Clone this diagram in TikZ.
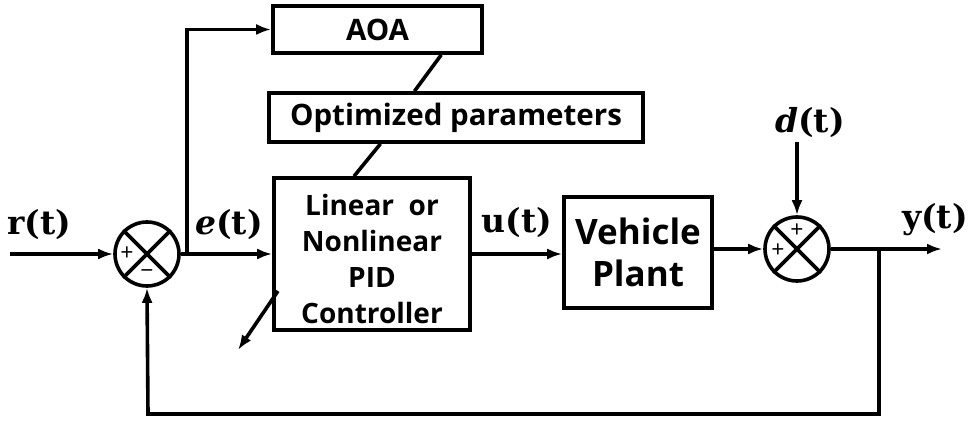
\documentclass[tikz,border=0pt]{standalone}
\usepackage{fontspec}
\newfontfamily\boxfont{Open Sans}
\newfontfamily\sigfont{DejaVu Serif}
\usetikzlibrary{arrows.meta,calc}
\begin{document}
\begin{tikzpicture}[x=1pt,y=-1pt,
  line width=3.6pt,
  arr/.style={-{Latex[length=15pt,width=11pt]}},
  blk/.style={draw,rectangle,inner sep=0pt,font=\boxfont\bfseries\fontsize{29.5}{36}\selectfont,align=center},
  sumc/.style={draw,circle,minimum size=64pt,inner sep=0pt},
  sig/.style={font=\sigfont\bfseries\fontsize{33}{36}\selectfont},
  pm/.style={font=\boxfont\fontsize{23}{23}\selectfont,inner sep=0pt}]
\useasboundingbox (0,0) rectangle (975,422);
% blocks
\node[blk,minimum width=209pt,minimum height=47pt] (aoa) at (377.5,29.5) {AOA};
\node[blk,minimum width=374pt,minimum height=49pt] (opt) at (456,117.5) {Optimized parameters};
\node[blk,minimum width=196pt,minimum height=152pt] (ctrl) at (372,254) {};
\node[font=\boxfont\bfseries\fontsize{28}{36}\selectfont,align=center] (ctxt) at (372,259) {Linear\ \ or\\Nonlinear\\PID\\Controller};
\node[blk,minimum width=148pt,minimum height=111pt,font=\boxfont\bfseries\fontsize{35}{42}\selectfont] (plant) at (638,252.5) {Vehicle\\Plant};
% summing junctions
\node[sumc] (s1) at (147,254) {};
\draw (s1.north west) -- (s1.south east) (s1.north east) -- (s1.south west);
\node[pm] (s1p) at (127,254) {+};
\node[pm] (s1m) at (147,274) {\textminus};
\node[sumc] (s2) at (797,249) {};
\draw (s2.north west) -- (s2.south east) (s2.north east) -- (s2.south west);
\node[pm] (s2t) at (797,231) {+};
\node[pm] (s2l) at (778,251) {+};
% labels
\node[sig] (rl) at (39,225) {r(t)};
\node[sig] (el) at (229,225) {\textit{e}(t)};
\node[sig] (ul) at (517,223) {u(t)};
\node[sig] (dl) at (810,123) {\textit{d}(t)};
\node[sig] (yl) at (935,220) {y(t)};
% coordinates
\coordinate (rin) at (10,254);
\coordinate (br1) at (187,254);
\coordinate (dtop) at (797,142);
\coordinate (yout) at (942,249);
\coordinate (br2) at (879,249);
\coordinate (fbr) at (879,414);
\coordinate (fbl) at (148,414);
\coordinate (ds) at (278,291);
\coordinate (de) at (238,350);
% connectors
\draw[arr] (rin) -- (s1.west);
\draw[arr] (s1.east) -- (ctrl.west);
\draw[arr] (br1) |- (aoa.west);
\draw ($(aoa.south west)!0.8!(aoa.south east)$) -- ($(opt.north west)!0.39!(opt.north east)$);
\draw ($(opt.south west)!0.3!(opt.south east)$) -- ($(ctrl.north west)!0.41!(ctrl.north east)$);
\draw[arr] (ctrl.east) -- (plant.west |- ctrl.east);
\draw[arr] (plant.east |- s2.west) -- (s2.west);
\draw[arr] (dtop) -- (s2.north);
\draw[arr] (s2.east) -- (yout);
\draw[arr] (br2) -- (fbr) -- (fbl) -- (s1.south);
\draw[arr] (ds) -- (de);
\end{tikzpicture}
\end{document}
